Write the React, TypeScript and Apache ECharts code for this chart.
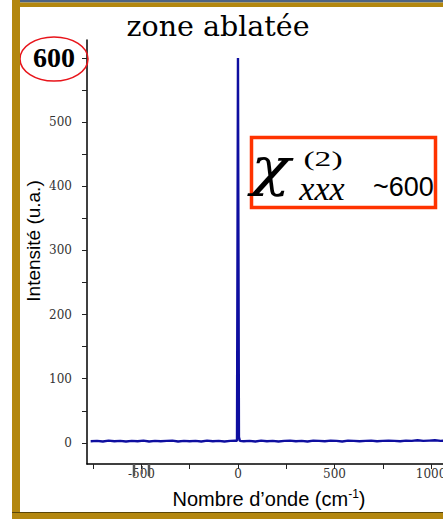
import React, { useEffect, useRef } from "react";
import * as echarts from "echarts";

// Spectrum (wavenumber in cm-1, intensity in a.u.)
const wavenumber = [
  -763, -730, -700, -670, -640, -610, -580, -550, -520, -490, -460, -430, -400, -370, -340, -310,
  -280, -250, -220, -190, -160, -130, -100, -70, -40, -15, -5, 0, 5, 10, 30, 60, 90, 120, 150, 180,
  210, 240, 270, 300, 330, 360, 390, 420, 450, 480, 510, 540, 570, 600, 630, 660, 690, 720, 750,
  780, 810, 840, 870, 900, 930, 960, 990, 1020, 1050, 1080,
];
const intensity = [
  2.5, 3, 2, 3.5, 2.5, 3, 2, 3, 2.5, 3.5, 2, 3, 2.5, 3, 3.5, 2,
  3, 2.5, 3, 2, 3.5, 2.5, 3, 2, 3, 3.5, 3, 600, 9, 3, 2.5, 3, 2, 3.5, 2.5, 3,
  2, 3, 3.5, 2.5, 3, 2, 3.5, 3, 2.5, 3.5, 3, 2, 3.5, 3, 2.5, 3, 3.5, 2.5, 3,
  3.5, 3, 2.5, 3.5, 3, 4, 3, 3.5, 4, 3, 3.5,
];
const yLabelValues = [0, 100, 200, 300, 400, 500, 600];
const yTickValues = [0, 50, 100, 150, 200, 250, 300, 350, 400, 450, 500, 550, 600];
const xLabelValues = [-500, 0, 500, 1000];
const xTickValues = [-750, -500, -250, 0, 250, 500, 750, 1000];

const title = "zone ablatée";
const xName = "Nombre d’onde (cm";
const yName = "Intensité (u.a.)";

const GOLD = "#b3870f";

export default function App() {
  const ref = useRef<HTMLDivElement>(null);
  useEffect(() => {
    if (!ref.current) return;
    const chart = echarts.init(ref.current, null, { renderer: "svg" });
    const data = wavenumber.map((w, i) => [w, intensity[i]]);
    chart.setOption({
      animation: false,
      backgroundColor: "#ffffff",
      grid: { left: 87, top: 40, right: 0, bottom: 55, containLabel: false, outerBoundsMode: "none" },
      xAxis: {
        type: "value",
        min: -782,
        max: 1062,
        splitLine: { show: false },
        axisLine: { show: true, onZero: false, lineStyle: { color: "#000", width: 1.5 } },
        axisTick: { show: true, inside: false, length: 5, customValues: xTickValues, lineStyle: { color: "#222", width: 1 } },
        axisLabel: {
          customValues: xLabelValues,
          margin: 4,
          fontFamily: "DejaVu Serif",
          fontSize: 12,
          color: "#333",
          hideOverlap: false,
          formatter: (v: number) => String(v),
        },
      },
      yAxis: {
        type: "value",
        min: -33,
        max: 628,
        splitLine: { show: false },
        axisLine: { show: true, onZero: false, lineStyle: { color: "#000", width: 1.5 } },
        axisTick: { show: true, inside: false, length: 5, customValues: yTickValues, lineStyle: { color: "#222", width: 1 } },
        axisLabel: {
          customValues: yLabelValues,
          margin: 15,
          fontFamily: "DejaVu Serif",
          fontSize: 12,
          color: "#333",
          formatter: (v: number) => (v === 600 ? "{big|600}" : String(v)),
          rich: {
            big: {
              fontFamily: "Liberation Serif",
              fontWeight: "bold",
              fontSize: 28,
              color: "#000",
              padding: [0, -3, 0, 0],
            },
          },
        },
      },
      series: [
        {
          type: "line",
          data,
          showSymbol: false,
          clip: true,
          lineStyle: { color: "#0e0ea0", width: 2.4 },
        },
      ],
      graphic: [
        // frame
        { type: "rect", shape: { x: 12, y: 0, width: 431, height: 2.5 }, style: { fill: "#4d6383" }, z: 100 },
        { type: "rect", shape: { x: 12, y: 2.5, width: 431, height: 4.5 }, style: { fill: GOLD }, z: 100 },
        { type: "rect", shape: { x: 12, y: 0, width: 8, height: 519 }, style: { fill: GOLD }, z: 100 },
        { type: "rect", shape: { x: 12, y: 512, width: 431, height: 1 }, style: { fill: "#5a4608" }, z: 100 },
        { type: "rect", shape: { x: 12, y: 513, width: 431, height: 6 }, style: { fill: GOLD }, z: 100 },
        // title
        {
          type: "text",
          x: 218,
          y: 41,
          style: {
            text: title,
            fontFamily: "DejaVu Serif",
            fontSize: 28.5,
            fill: "#000",
            align: "center",
            verticalAlign: "bottom",
          },
          z: 50,
        },
        // y axis name
        {
          type: "text",
          x: 33,
          y: 241,
          rotation: Math.PI / 2,
          style: {
            text: yName,
            fontFamily: "Liberation Sans",
            fontSize: 19,
            fill: "#000",
            align: "center",
            verticalAlign: "middle",
          },
          z: 50,
        },
        // x axis name
        {
          type: "text",
          x: 269,
          y: 499,
          style: {
            text: "{a|" + xName + "}{b|-1}{a|)}",
            align: "center",
            verticalAlign: "middle",
            rich: {
              a: { fontFamily: "Liberation Sans", fontSize: 20, fill: "#000", color: "#000" },
              b: { fontFamily: "Liberation Sans", fontSize: 12, fill: "#000", color: "#000", padding: [0, 0, 10, 0] },
            },
          },
          z: 50,
        },
        // red ellipse around 600
        {
          type: "ellipse",
          shape: { cx: 54, cy: 59, rx: 34, ry: 22 },
          style: { fill: "none", stroke: "#e8141a", lineWidth: 1.5 },
          z: 60,
        },
        // artifact ticks near -500
        { type: "line", shape: { x1: 134, y1: 464, x2: 134, y2: 476 }, style: { stroke: "#555", lineWidth: 2.5 }, z: 40 },
        { type: "line", shape: { x1: 149, y1: 464, x2: 149, y2: 476 }, style: { stroke: "#555", lineWidth: 2.5 }, z: 40 },
        { type: "line", shape: { x1: 142.5, y1: 466, x2: 142.5, y2: 474 }, style: { stroke: "#777", lineWidth: 1 }, z: 40 },
        // chi box
        {
          type: "rect",
          shape: { x: 251.5, y: 137.5, width: 184, height: 70 },
          style: { fill: "#fff", stroke: "#ff3300", lineWidth: 3.5 },
          z: 60,
        },
        {
          type: "text",
          x: 251,
          y: 167,
          scaleX: 1.25,
          style: {
            text: "χ",
            fontFamily: "DejaVu Serif",
            fontStyle: "italic",
            fontSize: 52,
            fill: "#000",
            align: "left",
            verticalAlign: "middle",
          },
          z: 61,
        },
        {
          type: "text",
          x: 323,
          y: 159,
          scaleX: 1.6,
          style: {
            text: "(2)",
            fontFamily: "Liberation Serif",
            fontSize: 21,
            fill: "#000",
            align: "center",
            verticalAlign: "middle",
          },
          z: 61,
        },
        {
          type: "text",
          x: 322,
          y: 188,
          style: {
            text: "xxx",
            fontFamily: "Liberation Serif",
            fontStyle: "italic",
            fontSize: 34,
            fill: "#000",
            align: "center",
            verticalAlign: "middle",
          },
          z: 61,
        },
        {
          type: "text",
          x: 373,
          y: 187,
          style: {
            text: "~600",
            fontFamily: "Liberation Sans",
            fontSize: 27,
            fill: "#000",
            align: "left",
            verticalAlign: "middle",
          },
          z: 61,
        },
      ],
    });
    return () => chart.dispose();
  }, []);
  return (
    <div
      ref={ref}
      style={{ position: "absolute", left: 0, top: 0, width: 443, height: 519, overflow: "hidden" }}
    />
  );
}
